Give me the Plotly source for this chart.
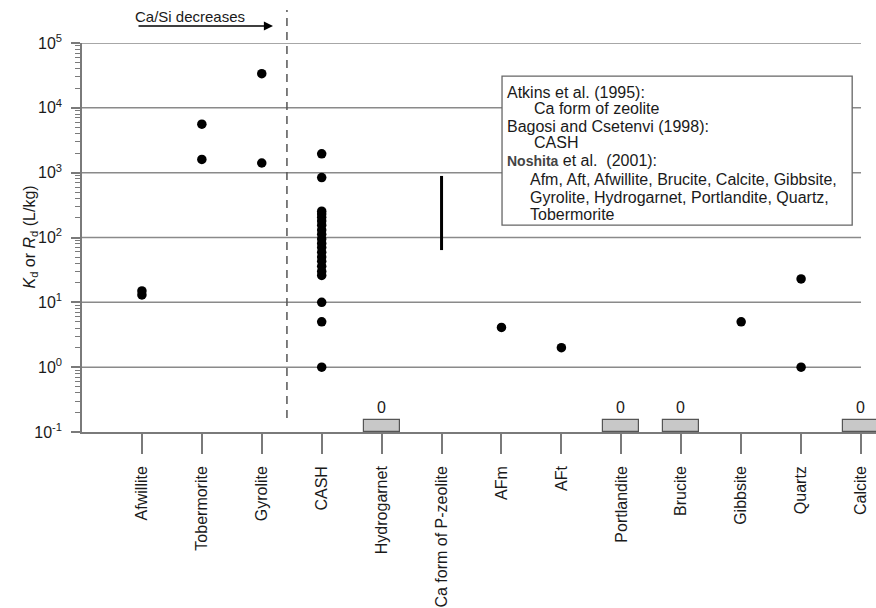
import plotly.graph_objects as go

# ---------------- data ----------------
categories = ["Afwillite", "Tobermorite", "Gyrolite", "CASH", "Hydrogarnet",
              "Ca form of P-zeolite", "AFm", "AFt", "Portlandite", "Brucite",
              "Gibbsite", "Quartz", "Calcite"]

afwillite_kd = [15, 13]
tobermorite_kd = [5600, 1600]
gyrolite_kd = [33700, 1410]
cash_kd = [1950, 840, 255, 230, 205, 180, 155, 130, 112, 95, 81, 70, 59, 50,
           43, 36, 30, 26, 10, 5, 1]
afm_kd = [4.1]
aft_kd = [2.0]
gibbsite_kd = [5.0]
quartz_kd = [23, 1]
pzeolite_range = [64, 890]          # Ca form of P-zeolite (Atkins et al.)
zero_categories = ["Hydrogarnet", "Portlandite", "Brucite", "Calcite"]
zero_labels = ["0", "0", "0", "0"]

y_tick_vals = [0.1, 1, 10, 100, 1000, 10000, 100000]
y_tick_text = ["10<sup>-1</sup>", "10<sup>0</sup>", "10<sup>1</sup>", "10<sup>2</sup>",
               "10<sup>3</sup>", "10<sup>4</sup>", "10<sup>5</sup>"]
y_minor_vals = [m * d for d in [0.1, 1, 10, 100, 1000, 10000] for m in range(2, 10)]

legend_lines = [
    ("Atkins et al. (1995):", 0),
    ("Ca form of zeolite", 2),
    ("Bagosi and Csetenvi (1998):", 0),
    ("CASH", 2),
    ("<span style='font-size:14px;color:#444'><b>Noshita</b></span> et al.  (2001):", 0),
    ("Afm, Aft, Afwillite, Brucite, Calcite, Gibbsite,", 1),
    ("Gyrolite, Hydrogarnet, Portlandite, Quartz,", 1),
    ("Tobermorite", 1),
]

# ---------------- style ----------------
FONT = "Liberation Sans, Arial, sans-serif"
TXT = "#1a1a1a"
GRID = "#8a8a8a"
AXIS = "#7a7a7a"
ZERO_BASE = 0.1
ZERO_HEIGHT = 0.055
DIVIDER_X = 2.42

fig = go.Figure()

# zero-value boxes
fig.add_trace(go.Bar(
    x=zero_categories, y=[ZERO_HEIGHT] * len(zero_categories), base=ZERO_BASE,
    width=0.6, marker=dict(color="#c8c8c8", line=dict(color="#555", width=1.2)),
    text=zero_labels, textposition="outside", cliponaxis=False,
    textfont=dict(size=16, color=TXT, family=FONT), showlegend=False,
))

def pts(cat, vals):
    fig.add_trace(go.Scatter(
        x=[cat] * len(vals), y=vals, mode="markers",
        marker=dict(color="black", size=9.5), showlegend=False, cliponaxis=False))

pts("Afwillite", afwillite_kd)
pts("Tobermorite", tobermorite_kd)
pts("Gyrolite", gyrolite_kd)
pts("CASH", cash_kd)
pts("AFm", afm_kd)
pts("AFt", aft_kd)
pts("Gibbsite", gibbsite_kd)
pts("Quartz", quartz_kd)

# P-zeolite range, drawn on the overlaying axis that carries the minor ticks
fig.add_trace(go.Scatter(
    x=["Ca form of P-zeolite"] * 2, y=pzeolite_range, mode="lines", yaxis="y2",
    line=dict(color="black", width=3), showlegend=False))

shapes = []
# gridlines ending at the last category
for v in y_tick_vals[1:]:
    shapes.append(dict(type="line", xref="x", yref="y", x0=-1, x1=len(categories) - 1,
                       y0=v, y1=v, line=dict(color=GRID, width=1.5), layer="below"))
# dashed divider
shapes.append(dict(type="line", xref="x", yref="paper", x0=DIVIDER_X, x1=DIVIDER_X,
                   y0=0.036, y1=1.085, line=dict(color="#555", width=1.5, dash="8px,6px")))
# legend box
shapes.append(dict(type="rect", xref="paper", yref="paper", x0=0.529, x1=0.970,
                   y0=0.532, y1=0.915, fillcolor="white",
                   line=dict(color="#666", width=1.3), layer="above"))

annotations = []
line_y = [92, 108, 126, 142, 160, 179, 197, 214]
indent_px = {0: 505, 1: 528, 2: 532}
for (txt, indent), yp in zip(legend_lines, line_y):
    annotations.append(dict(
        xref="paper", yref="paper", x=(indent_px[indent] - 82) / 794, y=(432 - yp) / 389,
        xanchor="left", yanchor="middle", text=txt, showarrow=False,
        font=dict(size=16, color=TXT, family=FONT)))

# Ca/Si arrow
annotations.append(dict(xref="paper", yref="paper", x=(273 - 82) / 794, y=(432 - 26) / 389,
                        ax=-136, ay=0, text="", showarrow=True, arrowhead=2, arrowsize=1.3,
                        arrowwidth=1.4, arrowcolor="black"))
annotations.append(dict(xref="paper", yref="paper", x=(190 - 82) / 794, y=(432 - 16) / 389,
                        text="Ca/Si decreases", showarrow=False, xanchor="center",
                        yanchor="middle", font=dict(size=15, color=TXT, family=FONT)))
# y-axis title
annotations.append(dict(xref="paper", yref="paper", x=(30 - 82) / 794, y=0.5,
                        xanchor="center", yanchor="middle", textangle=-90, showarrow=False,
                        text="<i>K</i><sub>d</sub> or <i>R</i><sub>d</sub> (L/kg)",
                        font=dict(size=16, color=TXT, family=FONT)))

fig.update_layout(
    width=876, height=608,
    margin=dict(l=82, r=0, t=43, b=176),
    paper_bgcolor="white", plot_bgcolor="white",
    font=dict(family=FONT, size=16, color=TXT),
    shapes=shapes, annotations=annotations,
    bargap=0,
    xaxis=dict(
        type="category", categoryorder="array", categoryarray=categories,
        tickvals=categories, range=[-1, len(categories) - 0.75],
        tickangle=-90, ticks="outside", ticklen=20, tickwidth=1.5, tickcolor=AXIS,
        showline=True, linecolor=AXIS, linewidth=1.5, showgrid=False,
        ticklabelstandoff=6, tickfont=dict(size=16, color=TXT, family=FONT),
    ),
    yaxis=dict(
        type="log", range=[-1, 5], tickmode="array", tickvals=y_tick_vals,
        ticktext=y_tick_text, ticks="outside", ticklen=9, tickwidth=1.5, tickcolor=AXIS,
        showline=True, linecolor=AXIS, linewidth=1.5, showgrid=False, zeroline=False,
        ticklabelstandoff=6, tickfont=dict(size=16, color=TXT, family=FONT),
    ),
    yaxis2=dict(
        type="log", range=[-1, 5], overlaying="y", side="left", anchor="x",
        tickmode="array", tickvals=y_minor_vals, showticklabels=False,
        ticks="outside", ticklen=6, tickwidth=1, tickcolor=AXIS,
        showline=False, showgrid=False, zeroline=False,
    ),
)

fig.write_html("out.html")
